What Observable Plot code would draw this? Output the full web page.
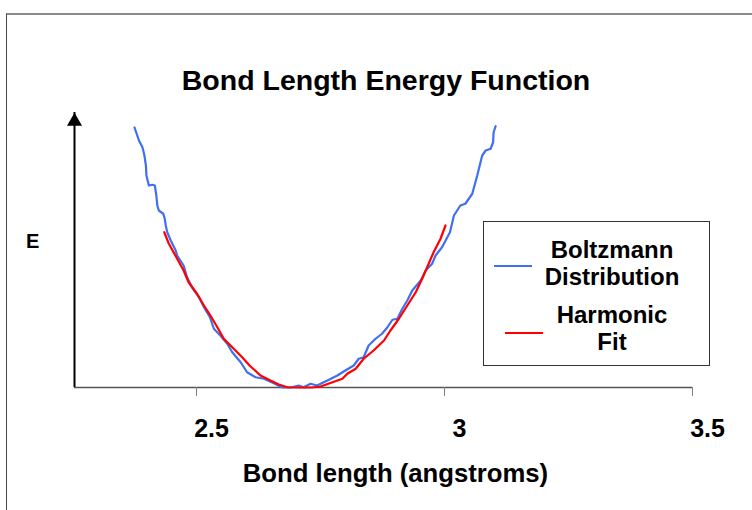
<!DOCTYPE html>
<html>
<head>
<meta charset="utf-8">
<script src="https://cdn.jsdelivr.net/npm/d3@7"></script>
<script src="https://cdn.jsdelivr.net/npm/@observablehq/plot@0.6"></script>
<style>
  html, body { margin: 0; padding: 0; background: #fff; }
  #wrap { position: relative; width: 752px; height: 510px; overflow: hidden; font-family: "Liberation Sans", Arial, sans-serif; font-weight: bold; color: #000; }
  #frame { position: absolute; left: 6px; top: 13px; width: 2000px; height: 2000px; border-top: 2px solid #8a8a8a; border-left: 1px solid #444; }
  #chart { position: absolute; left: 0; top: 0; }
  .txt { position: absolute; white-space: nowrap; line-height: 1; }
  #title { left: 0; width: 772px; text-align: center; top: 66px; font-size: 28.5px; }
  #xlabel { left: 0; width: 791px; text-align: center; top: 461px; font-size: 25.7px; }
  #ylabel { left: 26px; top: 231px; font-size: 20px; }
  #legend { position: absolute; left: 483px; top: 221px; width: 225px; height: 143px; border: 1px solid #333; background: #fff; }
  .lg { position: absolute; left: 38px; width: 180px; text-align: center; font-size: 24px; line-height: 27px; }
  .sw { position: absolute; height: 2px; }
</style>
</head>
<body>
<div id="wrap">
  <div id="frame"></div>
  <div id="chart"></div>
  <div id="title" class="txt"></div>
  <div id="xlabel" class="txt"></div>
  <div id="ylabel" class="txt"></div>
  <div id="legend"></div>
</div>
<script>
// ---- data ----
const titleText = "Bond Length Energy Function";
const xLabelText = "Bond length (angstroms)";
const yLabelText = "E";
const xTicks = [2.5, 3, 3.5];
const xDomain = [2.254, 3.5];
const yDomain = [0, 11];

const seriesNames = ["Boltzmann\nDistribution", "Harmonic\nFit"];
const seriesColors = ["#4070f0", "#ff0000"];

// Boltzmann distribution (bond length, E in arbitrary units)
const blueX = [2.375, 2.384, 2.391, 2.395, 2.398, 2.399, 2.404, 2.411, 2.416, 2.419, 2.421, 2.424, 2.433, 2.436, 2.438, 2.441, 2.448, 2.458, 2.461, 2.474, 2.481, 2.491, 2.505, 2.515, 2.527, 2.535, 2.548, 2.562, 2.572, 2.589, 2.602, 2.619, 2.636, 2.656, 2.673, 2.690, 2.706, 2.716, 2.730, 2.743, 2.764, 2.784, 2.800, 2.817, 2.827, 2.837, 2.847, 2.861, 2.874, 2.885, 2.895, 2.905, 2.915, 2.925, 2.935, 2.952, 2.962, 2.975, 2.982, 2.995, 3.011, 3.019, 3.032, 3.042, 3.056, 3.066, 3.076, 3.083, 3.093, 3.098, 3.099, 3.103];
const blueE = [10.40, 9.88, 9.61, 9.28, 8.88, 8.48, 8.08, 8.11, 8.08, 7.68, 7.28, 7.08, 6.95, 6.75, 6.48, 6.21, 5.88, 5.48, 5.28, 4.88, 4.41, 4.01, 3.61, 3.21, 2.81, 2.35, 2.08, 1.75, 1.41, 1.01, 0.61, 0.41, 0.35, 0.17, 0.00, 0.00, 0.08, 0.01, 0.15, 0.08, 0.28, 0.48, 0.68, 0.88, 1.15, 1.21, 1.68, 1.95, 2.15, 2.41, 2.71, 2.75, 3.15, 3.48, 3.88, 4.28, 4.68, 4.95, 5.28, 5.61, 6.21, 6.88, 7.28, 7.35, 7.75, 8.48, 9.28, 9.48, 9.55, 9.81, 10.21, 10.45];

// Harmonic fit
const redX = [2.435, 2.444, 2.461, 2.474, 2.484, 2.501, 2.515, 2.528, 2.542, 2.555, 2.575, 2.592, 2.607, 2.629, 2.649, 2.666, 2.683, 2.706, 2.733, 2.750, 2.770, 2.794, 2.804, 2.821, 2.837, 2.857, 2.878, 2.891, 2.908, 2.925, 2.942, 2.955, 2.965, 2.978, 2.992, 3.002];
const redE = [6.21, 5.76, 5.15, 4.68, 4.21, 3.75, 3.28, 2.88, 2.41, 1.95, 1.55, 1.21, 0.88, 0.48, 0.28, 0.12, 0.01, 0.00, 0.00, 0.04, 0.18, 0.35, 0.55, 0.75, 1.15, 1.48, 1.88, 2.28, 2.75, 3.28, 3.81, 4.35, 4.81, 5.41, 5.95, 6.48];

// ---- build tables ----
const blue = blueX.map((x, i) => ({x, e: blueE[i]}));
const red = redX.map((x, i) => ({x, e: redE[i]}));

const plot = Plot.plot({
  width: 752,
  height: 510,
  marginLeft: 74,
  marginRight: 60,
  marginTop: 112,
  marginBottom: 123,
  style: {fontFamily: '"Liberation Sans", Arial, sans-serif', background: "transparent", overflow: "visible"},
  x: {domain: xDomain},
  y: {domain: yDomain, axis: null},
  marks: [
    Plot.ruleY([0], {stroke: "#555", strokeWidth: 1.5}),
    Plot.ruleX([xDomain[0]], {y1: yDomain[0], y2: yDomain[1], stroke: "#000", strokeWidth: 2}),
    Plot.dot([{x: xDomain[0], e: yDomain[1]}], {x: "x", y: "e", symbol: "triangle", r: 5.6, fill: "#000", stroke: "none", dy: 9}),
    // tick marks (no text)
    Plot.axisX({ticks: xTicks, tickFormat: () => "", tickSize: 9, stroke: "#808080", label: null}),
    // tick labels, offset to the right of the tick marks
    Plot.axisX({ticks: xTicks, tickFormat: d => String(d), tickSize: 0, tickPadding: 32, fill: "#000", fontSize: 25, fontWeight: "bold", dx: 15, label: null}),
    Plot.line(blue, {x: "x", y: "e", stroke: seriesColors[0], strokeWidth: 2.2}),
    Plot.line(red, {x: "x", y: "e", stroke: seriesColors[1], strokeWidth: 2.2})
  ]
});
document.getElementById("chart").appendChild(plot);

document.getElementById("title").textContent = titleText;
document.getElementById("xlabel").textContent = xLabelText;
document.getElementById("ylabel").textContent = yLabelText;

// legend
const legend = document.getElementById("legend");
const lgTops = [14, 79];
const swPos = [{left: 10, top: 43, w: 38}, {left: 21, top: 110, w: 38}];
seriesNames.forEach((name, i) => {
  const t = document.createElement("div");
  t.className = "lg";
  t.style.top = lgTops[i] + "px";
  name.split("\n").forEach((line, j) => {
    if (j) t.appendChild(document.createElement("br"));
    t.appendChild(document.createTextNode(line));
  });
  legend.appendChild(t);
  const s = document.createElement("div");
  s.className = "sw";
  s.style.left = swPos[i].left + "px";
  s.style.top = swPos[i].top + "px";
  s.style.width = swPos[i].w + "px";
  s.style.background = seriesColors[i];
  legend.appendChild(s);
});
</script>
</body>
</html>
